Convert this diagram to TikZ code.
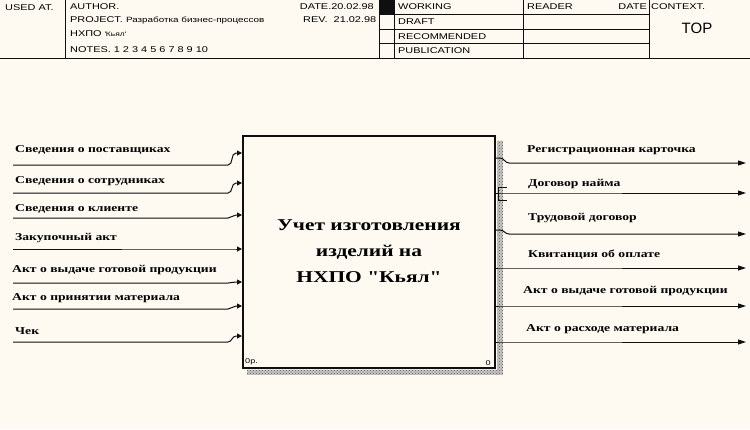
\documentclass[tikz,border=0pt]{standalone}
\usepackage{fontspec}
\setmainfont{Liberation Serif}
\newfontfamily\hdrfont[FakeStretch=1.3]{Liberation Sans}
\newfontfamily\lblfont[FakeStretch=1.3]{Liberation Serif}
\newfontfamily\topfont{Liberation Sans}
\usetikzlibrary{arrows.meta,positioning,calc,patterns}
\definecolor{Paper}{RGB}{254,249,241}
\definecolor{Ink}{RGB}{15,15,15}
\definecolor{Shade}{RGB}{90,90,90}

\begin{document}
\begin{tikzpicture}[x=1pt, y=-1pt,
    func/.style={draw=Ink, line width=2pt, minimum width=252pt, minimum height=232pt,
      align=center, font=\lblfont\bfseries\fontsize{16.5}{26}\selectfont},
    lbl/.style={anchor=west, inner sep=0pt, font=\lblfont\bfseries\fontsize{10.5}{12}\selectfont},
    hdr/.style={anchor=west, inner sep=0pt, font=\hdrfont\fontsize{8.4}{9}\selectfont},
    tiny/.style={inner sep=0pt, font=\hdrfont\fontsize{7}{8}\selectfont},
    arrin/.style={-{Triangle[length=5pt,width=5pt]}, line width=1pt, draw=Ink},
    arrout/.style={-{Triangle[length=8pt,width=5pt]}, line width=1pt, draw=Ink},
    frame/.style={draw=Ink, line width=0.9pt},
    shadow/.style={preaction={fill=Shade!35}, pattern=crosshatch dots, pattern color=Shade}
  ]
    \fill[Paper] (0,0) rectangle (750,429);
    \useasboundingbox (0,0) rectangle (750,429);

    % header frame
    \fill[Ink] (379,0) rectangle (394,14);
    \draw[frame] (0,58) -- (750,58);
    \foreach \x in {65,379,394,523,649}
      \draw[frame] (\x,0) -- (\x,58);
    \foreach \y in {14,29,43}
      \draw[frame] (379,\y) -- (649,\y);

    \node[hdr] (usedat) at (5,8) {USED AT.};
    \node[hdr] (author) at (70,7) {AUTHOR.};
    \node[hdr] (project) at (70,20) {PROJECT. {\fontsize{7.6}{8}\selectfont Разработка бизнес-процессов}};
    \node[hdr] (firm) at (70,34) {НХПО {\fontsize{6.5}{7}\selectfont\textquotesingle Кьял\textquotesingle}};
    \node[hdr] (notes) at (70,50) {NOTES. 1 2 3 4 5 6 7 8 9 10};
    \node[hdr, anchor=east] (date) at (374,7) {DATE.20.02.98};
    \node[hdr] (rev) at (303,20) {REV.\ \ 21.02.98};
    \node[hdr] (working) at (398,7) {WORKING};
    \node[hdr] (draft) at (398,22) {DRAFT};
    \node[hdr] (recomm) at (398,37) {RECOMMENDED};
    \node[hdr] (publ) at (398,51) {PUBLICATION};
    \node[hdr] (reader) at (527,7) {READER};
    \node[hdr, anchor=east] (rdate) at (647,7) {DATE};
    \node[hdr] (context) at (651,7) {CONTEXT.};
    \node[inner sep=0pt, font=\topfont\fontsize{15}{16}\selectfont] (top) at (697,28) {TOP};

    % function box
    \node[func] (box) at (369,251.5) {Учет изготовления\\изделий на\\НХПО "Кьял"};
    \fill[shadow] ($(box.north east)+(1,6)$) rectangle ($(box.south east)+(7,6)$);
    \fill[shadow] ($(box.south west)+(5,1)$) rectangle ($(box.south east)+(1,6)$);
    \node[tiny, anchor=south west] (cost) at ($(box.south west)+(3,-3)$) {0р.};
    \node[tiny, anchor=south east] (num) at ($(box.south east)+(-5,-3)$) {0};

    % inputs
    \foreach \ys/\ye/\yl/\xl/\txt [count=\i] in {
        165/153/150/15/Сведения о поставщиках,
        193/183/181/15/Сведения о сотрудниках,
        218/215/209/15/Сведения о клиенте,
        249/249/238/15/Закупочный акт,
        283/282/270/12/Акт о выдаче готовой продукции,
        309/306/298/12/Акт о принятии материала,
        342/336/331/15/Чек}
    {
      \coordinate (in\i) at (13,\ys);
      \node[lbl] (inl\i) at (\xl,\yl) {\txt};
      \draw[arrin] (in\i) -- (228,\ys) to[out=0,in=180] (236,\ye) -- (box.west |- 0,\ye);
    }

    % outputs
    \foreach \ys/\ye/\yl/\xl/\txt [count=\i] in {
        158/163/150/527/Регистрационная карточка,
        193/193/184/528/Договор найма,
        230/234/218/528/Трудовой договор,
        268/268/255/528/Квитанция об оплате,
        306/306/291/523/Акт о выдаче готовой продукции,
        342/342/329/526/Акт о расходе материала}
    {
      \coordinate (out\i) at (746,\ye);
      \node[lbl] (outl\i) at (\xl,\yl) {\txt};
      \draw[arrout] (box.east |- 0,\ys) -- (500,\ys) to[out=0,in=180] (509,\ye) -- (out\i);
    }
    \draw[Ink, line width=0.8pt] (507,187) -- (498,187) -- (498,200) -- (507,200);
  \end{tikzpicture}
\end{document}
